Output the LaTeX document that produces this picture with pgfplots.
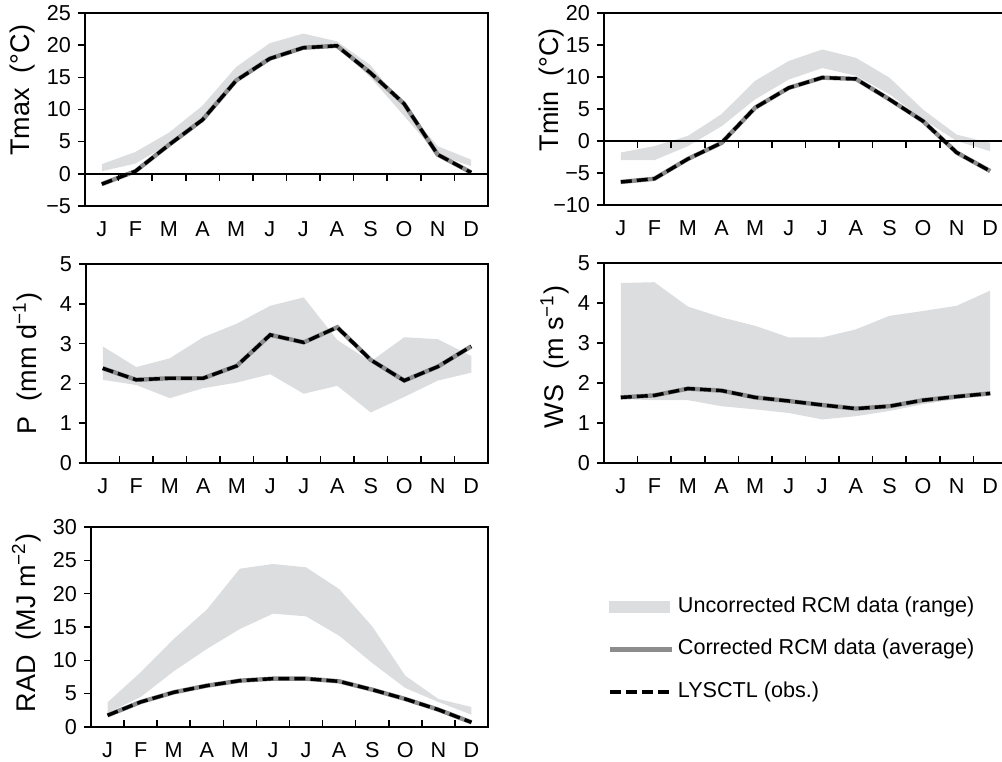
\documentclass[border=0pt]{standalone}
\usepackage{fontspec}
\setmainfont{Liberation Sans}
\usepackage{pgfplots}
\usepackage{pgfplotstable}
\pgfplotsset{compat=1.18}
\usepgfplotslibrary{fillbetween}
\definecolor{band}{RGB}{220,221,223}
\definecolor{avg}{RGB}{140,140,140}

\pgfplotstableread{
m lo hi obs
1 0.4 1.5 -1.6
2 1.6 3.4 0.4
3 4.6 6.4 4.5
4 8.5 10.6 8.4
5 14.5 16.6 14.5
6 17.9 20.3 17.9
7 19.7 21.8 19.6
8 19.8 20.6 19.9
9 15.0 16.9 15.7
10 9.0 10.4 10.9
11 3.0 4.3 3.0
12 1.2 2.2 0.2
}\tmax

\pgfplotstableread{
m lo hi obs
1 -3.0 -1.8 -6.4
2 -3.0 -0.8 -5.9
3 -0.8 0.8 -2.8
4 2.3 4.2 -0.3
5 6.5 9.4 5.2
6 9.6 12.5 8.3
7 11.4 14.3 9.9
8 10.2 13.0 9.7
9 7.3 9.9 6.5
10 3.4 4.9 3.1
11 0.0 1.0 -1.8
12 -1.6 -0.3 -4.7
}\tmin

\pgfplotstableread{
m lo hi obs
1 2.09 2.93 2.38
2 1.96 2.41 2.09
3 1.63 2.63 2.13
4 1.88 3.16 2.13
5 2.02 3.50 2.44
6 2.23 3.95 3.22
7 1.74 4.16 3.03
8 1.94 3.09 3.41
9 1.27 2.55 2.59
10 1.66 3.16 2.07
11 2.07 3.11 2.42
12 2.27 2.69 2.93
}\prec

\pgfplotstableread{
m lo hi obs
1 1.60 4.50 1.64
2 1.57 4.52 1.69
3 1.57 3.91 1.86
4 1.42 3.64 1.81
5 1.34 3.43 1.64
6 1.25 3.14 1.55
7 1.09 3.14 1.45
8 1.17 3.34 1.36
9 1.30 3.68 1.42
10 1.47 3.80 1.57
11 1.60 3.93 1.66
12 1.70 4.31 1.74
}\ws

\pgfplotstableread{
m lo hi obs
1 2.1 3.7 1.75
2 4.5 8.2 3.75
3 8.35 13.2 5.2
4 11.7 17.6 6.2
5 14.7 23.75 6.95
6 17.0 24.45 7.25
7 16.6 23.95 7.25
8 13.7 20.7 6.85
9 9.6 15.1 5.6
10 5.85 7.7 4.2
11 3.75 4.2 2.6
12 1.85 3.0 0.7
}\rad

\tikzset{
  avgline/.style={avg, line width=2.2pt},
  obsline/.style={black, line width=1.7pt, dash pattern=on 5.5pt off 2.5pt},
}

\pgfplotsset{
  panel/.style={
    scale only axis, anchor=south west,
    xmin=0.5, xmax=12.5,
    xtick={1,...,12}, xticklabels={J,F,M,A,M,J,J,A,S,O,N,D},
    major x tick style={draw=none},
    xtick pos=bottom, ytick pos=left,
    tick align=outside, major tick length=3.5pt,
    axis line style={line width=0.9pt},
    tick style={line width=0.8pt, black},
    ticklabel style={font=\fontsize{10.8}{13}\selectfont},
    xticklabel style={text height=7.8pt, text depth=0pt, yshift=-0.5pt},
    ylabel style={font=\fontsize{13.5}{16}\selectfont, anchor=center, rotate=0},
    clip=false,
  },
}

\newcommand\bandplot[1]{%
  \addplot[name path=hi, draw=none, forget plot] table[x=m, y=hi] {#1};
  \addplot[name path=lo, draw=none, forget plot] table[x=m, y=lo] {#1};
  \addplot[band, forget plot] fill between[of=hi and lo];
  \addplot[avgline, forget plot] table[x=m, y=obs] {#1};
  \addplot[obsline, forget plot] table[x=m, y=obs] {#1};
}
\newcommand\downticks{%
  \pgfplotsinvokeforeach{1.5,2.5,3.5,4.5,5.5,6.5,7.5,8.5,9.5,10.5,11.5}{
    \draw[line width=0.8pt] (axis cs:##1,0) -- ([yshift=-3.5pt]axis cs:##1,0);}}
\newcommand\upticks{%
  \pgfplotsinvokeforeach{1.5,2.5,3.5,4.5,5.5,6.5,7.5,8.5,9.5,10.5,11.5}{
    \draw[line width=0.8pt] (axis cs:##1,0) -- ([yshift=3.5pt]axis cs:##1,0);}}

\begin{document}
\begin{tikzpicture}

% Tmax
\begin{axis}[panel, at={(42.5pt,277.5pt)}, width=201.5pt, height=96.5pt,
  ymin=-5, ymax=25, ytick={-5,0,5,10,15,20,25},
  yticklabels={−5,0,5,10,15,20,25},
  ylabel={Tmax\ \ (°C)},
  ylabel style={at={(axis description cs:-0.154,0.6)}}]
\bandplot{\tmax}
\draw[line width=0.7pt] (axis cs:0.5,0) -- (axis cs:12.5,0);
\downticks
\end{axis}

% Tmin
\begin{axis}[panel, at={(302pt,278pt)}, width=201.5pt, height=96pt,
  ymin=-10, ymax=20, ytick={-10,-5,0,5,10,15,20},
  yticklabels={−10,−5,0,5,10,15,20},
  ylabel={Tmin\ \ (°C)},
  ylabel style={at={(axis description cs:-0.13,0.60)}}]
\bandplot{\tmin}
\draw[line width=0.7pt] (axis cs:0.5,0) -- (axis cs:12.5,0);
\downticks
\end{axis}

% P
\begin{axis}[panel, at={(43pt,149pt)}, width=201pt, height=99.5pt,
  ymin=0, ymax=5, ytick={0,1,2,3,4,5},
  yticklabels={0,1,2,3,4,5},
  ylabel={P\ \ (mm d\textsuperscript{−1})},
  ylabel style={at={(axis description cs:-0.1455,0.5)}}]
\bandplot{\prec}
\upticks
\end{axis}

% WS
\begin{axis}[panel, at={(302pt,149pt)}, width=201.5pt, height=100pt,
  ymin=0, ymax=5, ytick={0,1,2,3,4,5},
  yticklabels={0,1,2,3,4,5},
  ylabel={WS\ \ (m s\textsuperscript{−1})},
  ylabel style={at={(axis description cs:-0.1216,0.53)}}]
\bandplot{\ws}
\upticks
\end{axis}

% RAD
\begin{axis}[panel, at={(45.5pt,17pt)}, width=198.5pt, height=100pt,
  ymin=0, ymax=30, ytick={0,5,10,15,20,25,30},
  yticklabels={0,5,10,15,20,25,30},
  ylabel={RAD\ \ (MJ m\textsuperscript{−2})},
  ylabel style={at={(axis description cs:-0.1625,0.52)}},
  legend style={at={(axis description cs:1.30,0.675)}, anchor=north west,
    draw=none, fill=none, inner sep=0pt, row sep=6.75pt,
    font=\fontsize{10.8}{13}\selectfont,
    nodes={text height=8pt, text depth=2.5pt}},
  legend cell align=left]
\bandplot{\rad}
\upticks
\addlegendimage{legend image code/.code={\fill[band] (0pt,-2.75pt) rectangle (30pt,2.75pt);}}
\addlegendentry{Uncorrected RCM data (range)}
\addlegendimage{legend image code/.code={\draw[avgline] (0pt,0pt) -- (31pt,0pt);}}
\addlegendentry{Corrected RCM data (average)}
\addlegendimage{legend image code/.code={\draw[obsline] (0pt,0pt) -- (30pt,0pt);}}
\addlegendentry{LYSCTL (obs.)}
\end{axis}

\pgfresetboundingbox
\useasboundingbox (0,0) rectangle (501pt,380.5pt);
\end{tikzpicture}
\end{document}
